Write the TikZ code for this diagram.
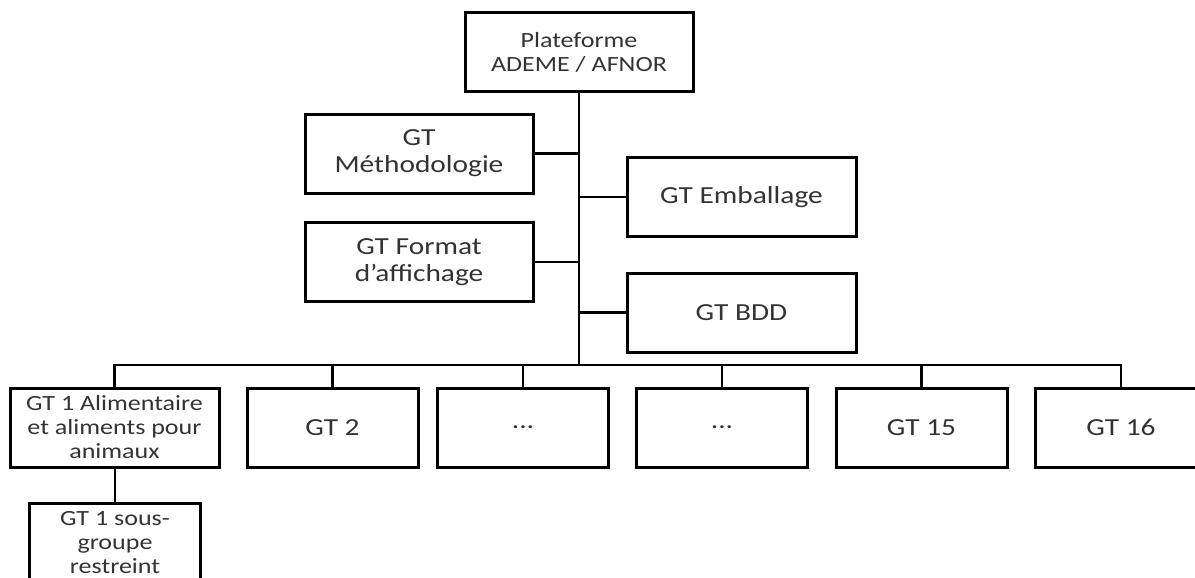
\documentclass[tikz,border=0pt]{standalone}
\usepackage{fontspec}
\setmainfont{Carlito}[FakeStretch=1.2]

\tikzset{
  box/.style={
    draw,
    line width=3pt,
    inner sep=0pt,
    align=center,
    minimum height=79pt,
    text=black!80,
    font=\fontsize{24.5}{27}\selectfont,
  },
  small/.style={
    font=\fontsize{21.7}{24}\selectfont,
  },
  upper box/.style={
    box,
    minimum width=228pt,
  },
  lower box/.style={
    box,
    minimum width=171pt,
  },
  link/.style={
    line width=2.7pt,
  },
}

\begin{document}
\begin{tikzpicture}[x=1pt, y=-1pt]
  \useasboundingbox (0,0) rectangle (1195,578);
  \clip (0,0) rectangle (1195,578);

  % platform and the transversal groups
  \node[upper box, small] (plat) at (579,52.5) {Plateforme\\ADEME / AFNOR};
  \node[upper box] (meth) at (419,153.5) {GT\\Méthodologie};
  \node[upper box] (format) at (419,262) {GT Format\\d’affichage};
  \node[upper box, minimum width=229pt] (emb) at (741.5,197) {GT Emballage};
  \node[upper box, minimum width=229pt] (bdd) at (741.5,312.5) {GT BDD};

  % sector groups
  \node[lower box, small, minimum width=209pt] (gt1) at (114.5,427.5)
    {GT 1 Alimentaire\\et aliments pour\\animaux};
  \node[lower box] (gt2) at (332.5,427.5) {GT 2};
  \node[lower box] (dotsa) at (523,427.5) {...};
  \node[lower box] (dotsb) at (722,427.5) {...};
  \node[lower box] (gt15) at (921.5,427.5) {GT 15};
  \node[lower box] (gt16) at (1121,427.5) {GT 16};
  \node[lower box, small] (sub) at (115,542.5) {GT 1 sous-\\groupe\\restreint};

  \coordinate (bus) at (579,365);

  % trunk and side branches
  \draw[link] (plat.south) -- (bus);
  \foreach \n in {meth,format} {
    \draw[link] (\n.east) -- (\n.east -| plat.south);
  }
  \foreach \n in {emb,bdd} {
    \draw[link] (\n.west) -- (\n.west -| plat.south);
  }

  % bus to the sector groups
  \draw[link] (gt1.north) -- (gt1.north |- bus) -- (gt16.north |- bus) -- (gt16.north);
  \foreach \n in {gt2,dotsa,dotsb,gt15} {
    \draw[link] (\n.north) -- (\n.north |- bus);
  }
  \draw[link] (gt1.south) -- (gt1.south -| sub.north) -- (sub.north);

\end{tikzpicture}
\end{document}
